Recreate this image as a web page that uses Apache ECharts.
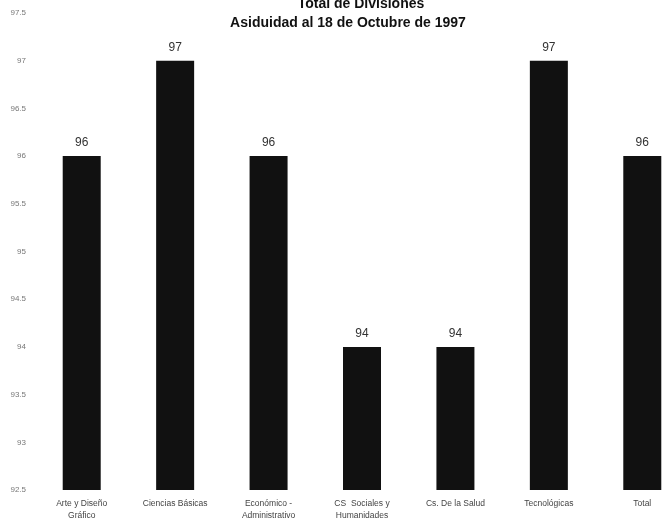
<!DOCTYPE html>
<html>
<head>
<meta charset="utf-8">
<script src="https://cdn.jsdelivr.net/npm/echarts@6/dist/echarts.min.js"></script>
<style>html,body{margin:0;padding:0;background:#fff;}#c{width:662px;height:526px;}</style>
</head>
<body>
<div id="c"></div>
<script>
const categories = ["Arte y Diseño\nGráfico", "Ciencias Básicas", "Económico -\nAdministrativo", "CS  Sociales y\nHumanidades", "Cs. De la Salud", "Tecnológicas", "Total"];
const values = [96, 97, 96, 94, 94, 97, 96];
const titleLines = ["Total de Divisiones", "Asiduidad al 18 de Octubre de 1997"];

const chart = echarts.init(document.getElementById('c'), null, {renderer: 'canvas'});
chart.setOption({
  backgroundColor: '#fff',
  animation: false,
  textStyle: {fontFamily: 'Liberation Sans, Arial, sans-serif'},
  graphic: [
    {type: 'text', style: {text: titleLines[0], x: 361, y: 4, textAlign: 'center', textVerticalAlign: 'middle', font: 'bold 14px "Liberation Sans", Arial, sans-serif', fill: '#111'}},
    {type: 'text', style: {text: titleLines[1], x: 348, y: 23, textAlign: 'center', textVerticalAlign: 'middle', font: 'bold 14px "Liberation Sans", Arial, sans-serif', fill: '#111'}}
  ],
  grid: {left: 35, top: 13, width: 654, height: 477, containLabel: false, outerBoundsMode: 'none'},
  xAxis: {
    type: 'category',
    data: categories,
    axisLine: {show: false},
    axisTick: {show: false},
    axisLabel: {fontSize: 8.5, color: '#444', lineHeight: 12, margin: 8, interval: 0, hideOverlap: false, fontFamily: 'Liberation Sans, Arial, sans-serif'}
  },
  yAxis: {
    type: 'value',
    min: 92.5,
    max: 97.5,
    interval: 0.5,
    axisLine: {show: false},
    axisTick: {show: false},
    splitLine: {show: false},
    axisLabel: {fontSize: 8, color: '#777', margin: 9, formatter: v => (Number.isInteger(v) ? String(v) : v.toFixed(1))}
  },
  series: [{
    type: 'bar',
    data: values,
    barWidth: 38,
    itemStyle: {color: '#111'},
    label: {show: true, position: 'top', distance: 7, fontSize: 12, color: '#333'}
  }]
});
</script>
</body>
</html>
